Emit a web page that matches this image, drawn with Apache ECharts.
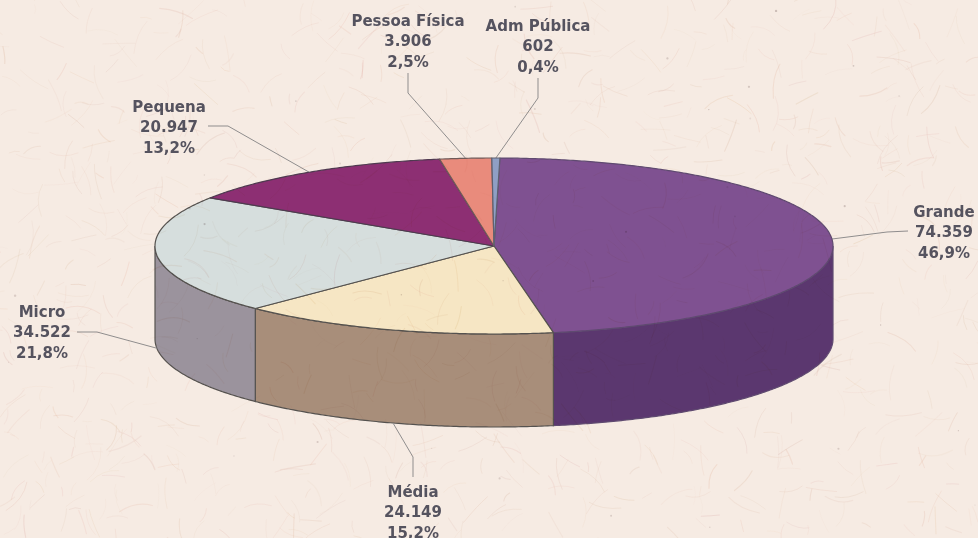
<!DOCTYPE html>
<html>
<head>
<meta charset="utf-8">
<style>
html,body{margin:0;padding:0;width:978px;height:538px;overflow:hidden;background:#f6ebe3}
#chart{position:absolute;left:0;top:0;width:978px;height:538px}
#paper{position:absolute;left:0;top:0;pointer-events:none;mix-blend-mode:multiply}
</style>
<script src="https://cdn.jsdelivr.net/npm/echarts@6/dist/echarts.min.js"></script>
</head>
<body>
<div id="chart"></div>
<canvas id="paper" width="978" height="538"></canvas>
<script>
// Data
const categories = ['Grande', 'Média', 'Micro', 'Pequena', 'Pessoa Física', 'Adm Pública'];
const seriesValues = [74359, 24149, 34522, 20947, 3906, 602];

// Styles
const topColors = ['#7f5191', '#f6e6c4', '#d6dedd', '#8d2f73', '#e98b7c', '#8f9fc4'];
const sideColors = ['#5b376f', '#a88e7a', '#9b939d', '#6a2356', '#b06a5e', '#6a7694'];
const edgeColors = ['#5f4a70', '#55524f', '#55524f', '#4f3a50', '#6f5a58', '#5f6070'];
const inkColor = '#55535f';
const leaderColor = '#8f8d8d';

// Layout (pixels): leader elbow, leader end, and the centre of each label's lines
const labelLayout = [
  { elbow: [887, 232], end: [908, 231], x: 944, y: 202.5 },
  { elbow: [413, 457], end: [413, 477], x: 413, y: 482.5 },
  { elbow: [97, 332], end: [77, 332], x: 42, y: 302.5 },
  { elbow: [228, 126], end: [208, 126], x: 169, y: 97.5 },
  { elbow: [408, 93], end: [408, 73], x: 408, y: 11.5 },
  { elbow: [538, 98], end: [538, 78], x: 538, y: 16.5 }
];
const startAngle = 1;          // degrees clockwise from the top of the ellipse
const depthUnits = 93 / 88;    // wall height in y-axis units

const total = seriesValues.reduce((a, b) => a + b, 0);
const fmtValue = v => String(v).replace(/\B(?=(\d{3})+(?!\d))/g, '.');
const fmtPct = v => (v / total * 100).toFixed(1).replace('.', ',') + '%';

const sweeps = [];
let acc = startAngle;
seriesValues.forEach(v => {
  const sweep = v / total * 360;
  sweeps.push([acc, acc + sweep]);
  acc += sweep;
});

const unit = t => {
  const r = t * Math.PI / 180;
  return [Math.sin(r), Math.cos(r)];
};

function arcPoints(api, a, b, dy) {
  const pts = [];
  const n = Math.max(2, Math.ceil(Math.abs(b - a) / 0.5));
  for (let k = 0; k <= n; k++) {
    const u = unit(a + (b - a) * k / n);
    pts.push(api.coord([u[0], u[1] - dy]));
  }
  return pts;
}

function renderItem(params, api) {
  const i = params.dataIndex;
  const a = api.value(1), b = api.value(2);
  const kids = [];
  // visible wall: only the part in the front half of the ellipse
  const fa = Math.max(a, 90), fb = Math.min(b, 270);
  if (fb > fa) {
    const upper = arcPoints(api, fa, fb, 0);
    const lower = arcPoints(api, fb, fa, depthUnits);
    kids.push({
      type: 'polygon', silent: true,
      shape: { points: upper.concat(lower) },
      style: { fill: sideColors[i], stroke: edgeColors[i], lineWidth: 1.2 }
    });
  }
  // top wedge
  const pts = [api.coord([0, 0])].concat(arcPoints(api, a, b, 0));
  kids.push({
    type: 'polygon', silent: true, z2: 5,
    shape: { points: pts },
    style: { fill: topColors[i], stroke: edgeColors[i], lineWidth: 1.2, lineJoin: 'round' }
  });
  // leader from the middle of the slice's rim
  const mid = (a + b) / 2;
  const mu = unit(mid);
  const onFront = mu[1] < -0.03 ;
  const anchor = api.coord([mu[0], mu[1] - (onFront ? depthUnits : 0)]);
  const lay = labelLayout[i];
  kids.push({
    type: 'polyline', silent: true, z2: 1,
    shape: { points: [anchor, lay.elbow, lay.end] },
    style: { fill: 'none', stroke: leaderColor, lineWidth: 1 }
  });
  kids.push({
    type: 'text', silent: true, z2: 10,
    style: {
      x: lay.x, y: lay.y,
      text: categories[i] + '\n' + fmtValue(seriesValues[i]) + '\n' + fmtPct(seriesValues[i]),
      align: 'center', verticalAlign: 'top',
      font: 'bold 15px "DejaVu Sans"', lineHeight: 20.5,
      fill: inkColor
    }
  });
  return { type: 'group', children: kids };
}

const chart = echarts.init(document.getElementById('chart'), null, { renderer: 'canvas' });
chart.setOption({
  animation: false,
  backgroundColor: 'transparent',
  tooltip: { show: false },
  grid: { left: 155, right: 145, top: 158, bottom: 204 },
  xAxis: { type: 'value', min: -1, max: 1, show: false },
  yAxis: { type: 'value', min: -1, max: 1, show: false },
  series: [{
    type: 'custom',
    coordinateSystem: 'cartesian2d',
    clip: false,
    renderItem,
    encode: { x: 0, y: 0 },
    data: seriesValues.map((v, i) => [0, sweeps[i][0], sweeps[i][1], v])
  }]
});

// Paper texture only: faint fibres multiplied over the whole page
(function () {
  const c = document.getElementById('paper').getContext('2d');
  c.fillStyle = '#fff';
  c.fillRect(0, 0, 978, 538);
  let s = 20240611;
  const rnd = () => (s = (s * 1664525 + 1013904223) >>> 0) / 4294967296;
  c.lineCap = 'round';
  c.filter = 'blur(0.6px)';
  for (let n = 0; n < 1100; n++) {
    const x = rnd() * 978, y = rnd() * 538, a = rnd() * 6.28, l = 5 + rnd() * 16;
    const b = a + (rnd() - 0.5) * 0.9;
    c.strokeStyle = 'rgba(' + (215 + rnd() * 20 | 0) + ',' + (170 + rnd() * 30 | 0) + ',' + (150 + rnd() * 30 | 0) + ',' + (0.06 + rnd() * 0.16) + ')';
    c.lineWidth = 0.6 + rnd() * 0.6;
    c.beginPath();
    c.moveTo(x, y);
    c.quadraticCurveTo(x + Math.cos(a) * l, y + Math.sin(a) * l, x + Math.cos(b) * l * 1.7, y + Math.sin(b) * l * 1.7);
    c.stroke();
  }
  for (let n = 0; n < 35; n++) {
    c.fillStyle = 'rgba(130,110,110,' + (0.12 + rnd() * 0.25) + ')';
    c.beginPath();
    c.arc(rnd() * 978, rnd() * 538, 0.5 + rnd() * 0.7, 0, 6.28);
    c.fill();
  }
})();
</script>
</body>
</html>
